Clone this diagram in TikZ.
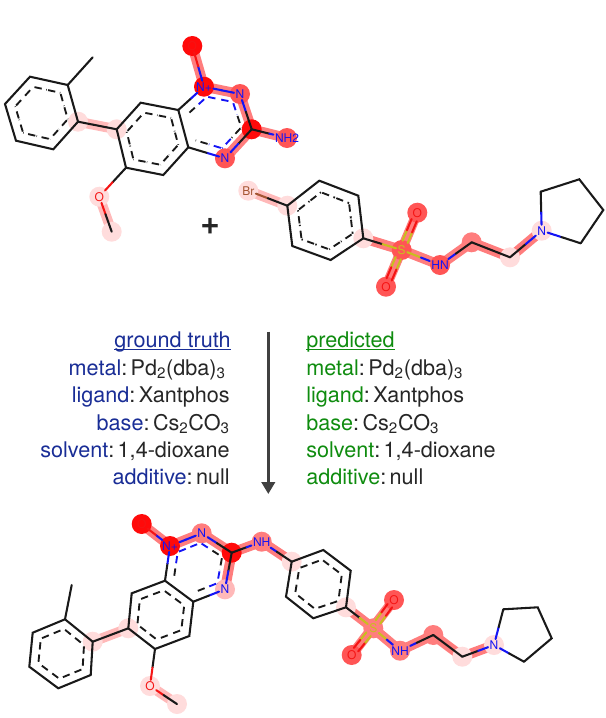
\documentclass[tikz,border=0pt]{standalone}
\usepackage{fontspec}
\setmainfont{TeX Gyre Heros}
\usetikzlibrary{arrows.meta,calc,backgrounds}
\definecolor{gtblue}{RGB}{25,45,150}
\definecolor{predgreen}{RGB}{15,140,15}
\definecolor{nblue}{RGB}{20,20,245}
\definecolor{ored}{RGB}{245,20,20}
\definecolor{syellow}{RGB}{200,190,30}
\definecolor{brbrown}{RGB}{165,85,50}
\definecolor{bondblack}{RGB}{25,25,25}
\definecolor{hlhigh}{RGB}{255,10,10}
\definecolor{hlmid}{RGB}{255,85,85}
\definecolor{hllow}{RGB}{255,220,220}
\definecolor{hlbond}{RGB}{255,125,125}
\definecolor{hlweak}{RGB}{255,185,185}
\tikzset{
  bondline/.style={line width=1.55pt,line cap=round},
  ringdash/.style={line width=1.4pt,dash pattern={on 5.5pt off 3.5pt},dash phase=-1pt},
  atomlabel/.style={font=\fontsize{9}{10}\selectfont,inner sep=1pt},
  hlstrong/.style={line width=7.5pt,hlbond},
  hlpale/.style={line width=7.5pt,hlweak},
  condtext/.style={font=\fontsize{16.2}{18}\selectfont,inner sep=0pt,text=black!85},
}
% bond drawn in two colours
\newcommand{\halfbond}[4]{
  \draw [bondline,#3] (#1) -- ($(#1.center)!0.5!(#2.center)$);
  \draw [bondline,#4] ($(#1.center)!0.5!(#2.center)$) -- (#2);
}
\newcommand{\dblbond}[4]{
  \foreach \off in {-90,90} {
    \draw [bondline,#3] ($($(#1.center)!0.22!(#2.center)$)!2.1pt!\off:(#2.center)$) -- ($($(#1.center)!0.5!(#2.center)$)!2.1pt!\off:(#2.center)$);
    \draw [bondline,#4] ($($(#1.center)!0.5!(#2.center)$)!2.1pt!\off:(#2.center)$) -- ($($(#1.center)!0.8!(#2.center)$)!2.1pt!\off:(#2.center)$);
  }
}
% inner dashes of an aromatic edge
\newcommand{\inbond}[5]{
  \draw [ringdash,#4] ($(#1)!0.72!(#2.center)$) -- ($(#1)!0.72!($(#2.center)!0.5!(#3.center)$)$);
  \draw [ringdash,#5] ($(#1)!0.72!($(#2.center)!0.5!(#3.center)$)$) -- ($(#1)!0.72!(#3.center)$);
}
\newcommand{\colgap}{:\hspace{0.16em}}
\begin{document}
\begin{tikzpicture}[x=0.75pt,y=0.75pt,yscale=-1,xscale=1]
\useasboundingbox (0,0) rectangle (606,718);

%Top left molecule
\coordinate (a1) at (5,104);
\coordinate (a2) at (30,76.7);
\coordinate (a3) at (67.7,85);
\coordinate (a4) at (78,121.7);
\coordinate (a5) at (53.3,149.3);
\coordinate (a6) at (16,140.7);
\coordinate (me1) at (92.7,57.3);
\coordinate (b1) at (116.7,129.3);
\coordinate (b2) at (140.7,102.7);
\coordinate (b3) at (178.3,110);
\coordinate (b4) at (188.3,147.3);
\coordinate (b5) at (163.3,175);
\coordinate (b6) at (126,167.7);
\coordinate (c1) at (251.7,129.3);
\coordinate (me2) at (111.7,231.7);
\coordinate (ringa) at ($(a1)!0.5!(a4)$);
\coordinate (ringb) at ($(b1)!0.5!(b4)$);
\node (n1) [atomlabel,text=nblue] at (204,86.7) {N+};
\node (n2) [atomlabel,text=nblue] at (240,94) {N};
\node (n3) [atomlabel,text=nblue] at (225,158.3) {N};
\node (nh2) [atomlabel,text=nblue] at (287,138) {NH2};
\node (o1) [atomlabel,text=ored] at (192.3,46) {O};
\node (o2) [atomlabel,text=ored] at (99.3,196.7) {O};
\coordinate (ringc) at ($(n1)!0.5!(n3)$);

\begin{scope}[on background layer]
\draw [hlstrong] (o1.center) -- (n1.center) -- (n2.center) -- (c1) -- (nh2.center);
\draw [hlstrong] (c1) -- (n3.center);
\draw [hlpale] (a4) -- (b1);
\draw [hlpale] (o2.center) -- (me2);
\fill [hlhigh] (o1.center) circle (10);
\fill [hlhigh] (n1.center) circle (10);
\fill [hlmid] (n2.center) circle (10);
\fill [hlhigh] (c1) circle (10);
\fill [hlmid] (n3.center) circle (10);
\fill [hlmid] (nh2.center) circle (10);
\fill [hllow] (a4) circle (10);
\fill [hllow] (b1) circle (10);
\fill [hllow] (o2.center) circle (10);
\fill [hllow] (me2) circle (10);
\end{scope}

\draw [bondline,bondblack] (a1) -- (a2) -- (a3) -- (a4) -- (a5) -- (a6) -- cycle;
\draw [bondline,bondblack] (b1) -- (b2) -- (b3) -- (b4) -- (b5) -- (b6) -- cycle;
\draw [bondline,bondblack] (a3) -- (me1);
\draw [bondline,bondblack] (a4) -- (b1);
\foreach \p/\q in {a1/a2,a2/a3,a3/a4,a4/a5,a5/a6,a6/a1} {\inbond{ringa}{\p}{\q}{bondblack}{bondblack}}
\foreach \p/\q in {b1/b2,b2/b3,b3/b4,b4/b5,b5/b6,b6/b1} {\inbond{ringb}{\p}{\q}{bondblack}{bondblack}}
\inbond{ringc}{b3}{n1}{bondblack}{nblue}
\inbond{ringc}{n1}{n2}{nblue}{nblue}
\inbond{ringc}{n2}{c1}{nblue}{bondblack}
\inbond{ringc}{c1}{n3}{bondblack}{nblue}
\inbond{ringc}{n3}{b4}{nblue}{bondblack}
\halfbond{b3}{n1}{bondblack}{nblue}
\halfbond{n1}{n2}{nblue}{nblue}
\halfbond{n2}{c1}{nblue}{bondblack}
\halfbond{c1}{n3}{bondblack}{nblue}
\halfbond{n3}{b4}{nblue}{bondblack}
\halfbond{c1}{nh2}{bondblack}{nblue}
\halfbond{n1}{o1}{nblue}{ored}
\halfbond{b6}{o2}{bondblack}{ored}
\halfbond{o2}{me2}{ored}{bondblack}

% Plus sign
\node (plus) [font=\fontsize{25}{25}\bfseries\selectfont,inner sep=0pt,text=black!85] at (210,226) {+};

%Top right molecule
\coordinate (d1) at (287.3,205.7);
\coordinate (d2) at (319.3,180.7);
\coordinate (d3) at (358.3,195.7);
\coordinate (d4) at (363.3,238.3);
\coordinate (d5) at (330.7,260);
\coordinate (d6) at (292.3,246);
\coordinate (e1) at (471.7,242.3);
\coordinate (e2) at (510,257.3);
\coordinate (p1) at (540.7,191.7);
\coordinate (p2) at (579.3,179.3);
\coordinate (p3) at (603.3,210);
\coordinate (p4) at (580.7,243.3);
\coordinate (ringd) at ($(d1)!0.5!(d4)$);
\node (br1) [atomlabel,text=brbrown] at (248.3,190.7) {Br};
\node (s1) [atomlabel,text=syellow] at (401.7,250) {S};
\node (o3) [atomlabel,text=ored] at (417.3,212.7) {O};
\node (o4) [atomlabel,text=ored] at (386,286.7) {O};
\node (nh1) [atomlabel,text=nblue] at (440,265) {HN};
\node (n4) [atomlabel,text=nblue] at (541.7,230.7) {N};

\begin{scope}[on background layer]
\draw [hlstrong] (d4) -- (s1.center) -- (nh1.center) -- (e1) -- (e2) -- (n4.center);
\draw [hlstrong] (o3.center) -- (o4.center);
\draw [hlpale] (br1.center) -- (d1);
\fill [hllow] (br1.center) circle (10);
\fill [hllow] (d1) circle (10);
\fill [hllow] (d4) circle (10);
\fill [hlmid] (s1.center) circle (10);
\fill [hlmid] (o3.center) circle (10);
\fill [hlmid] (o4.center) circle (10);
\fill [hlmid] (nh1.center) circle (10);
\fill [hlbond] (e1) circle (10);
\fill [hllow] (e2) circle (10);
\fill [hllow] (n4.center) circle (10);
\end{scope}

\draw [bondline,bondblack] (d1) -- (d2) -- (d3) -- (d4) -- (d5) -- (d6) -- cycle;
\foreach \p/\q in {d1/d2,d2/d3,d3/d4,d4/d5,d5/d6,d6/d1} {\inbond{ringd}{\p}{\q}{bondblack}{bondblack}}
\halfbond{br1}{d1}{brbrown}{bondblack}
\halfbond{d4}{s1}{bondblack}{syellow}
\dblbond{s1}{o3}{syellow}{ored}
\dblbond{s1}{o4}{syellow}{ored}
\halfbond{s1}{nh1}{syellow}{nblue}
\halfbond{nh1}{e1}{nblue}{bondblack}
\draw [bondline,bondblack] (e1) -- (e2);
\halfbond{e2}{n4}{bondblack}{nblue}
\halfbond{n4}{p1}{nblue}{bondblack}
\halfbond{n4}{p4}{nblue}{bondblack}
\draw [bondline,bondblack] (p1) -- (p2) -- (p3) -- (p4);

% Reaction arrow
\coordinate (arrowtop) at (268.3,331.7);
\coordinate (arrowend) at (268.3,494);
\draw [-{Triangle[length=9pt,width=10pt]},line width=2.2pt,black!75] (arrowtop) -- (arrowend);

% Text Node
\node (gthead) [condtext,anchor=base east,text=gtblue] at (231,347.5) {\underline{\smash{ground truth}}};
\node (gtmetal) [condtext,anchor=base east] at (226,375) {\textcolor{gtblue}{metal}\colgap Pd\textsubscript{2}(dba)\textsubscript{3}};
\node (gtligand) [condtext,anchor=base east] at (230,402) {\textcolor{gtblue}{ligand}\colgap Xantphos};
\node (gtbase) [condtext,anchor=base east] at (230,430) {\textcolor{gtblue}{base}\colgap Cs\textsubscript{2}CO\textsubscript{3}};
\node (gtsolvent) [condtext,anchor=base east] at (230,457) {\textcolor{gtblue}{solvent}\colgap 1,4-dioxane};
\node (gtadditive) [condtext,anchor=base east] at (230,484) {\textcolor{gtblue}{additive}\colgap null};
\node (predhead) [condtext,anchor=base west,text=predgreen] at (306,347.5) {\underline{\smash{predicted}}};
\node (predmetal) [condtext,anchor=base west] at (306,375) {\textcolor{predgreen}{metal}\colgap Pd\textsubscript{2}(dba)\textsubscript{3}};
\node (predligand) [condtext,anchor=base west] at (306,402) {\textcolor{predgreen}{ligand}\colgap Xantphos};
\node (predbase) [condtext,anchor=base west] at (306,430) {\textcolor{predgreen}{base}\colgap Cs\textsubscript{2}CO\textsubscript{3}};
\node (predsolvent) [condtext,anchor=base west] at (306,457) {\textcolor{predgreen}{solvent}\colgap 1,4-dioxane};
\node (predadditive) [condtext,anchor=base west] at (306,484) {\textcolor{predgreen}{additive}\colgap null};

%Bottom molecule
\coordinate (f1) at (32.7,632.7);
\coordinate (f2) at (65,619.3);
\coordinate (f3) at (92.7,641.7);
\coordinate (f4) at (90.7,675);
\coordinate (f5) at (58.3,688.3);
\coordinate (f6) at (29.3,666.7);
\coordinate (me3) at (71.7,585);
\coordinate (g1) at (128.3,628.3);
\coordinate (g2) at (131.7,593.3);
\coordinate (g3) at (165,580.7);
\coordinate (g4) at (193.3,601.7);
\coordinate (g5) at (189.3,636);
\coordinate (g6) at (155,649);
\coordinate (c2) at (231.7,552.7);
\coordinate (me4) at (177,704);
\coordinate (h1) at (291.7,561.7);
\coordinate (h2) at (323.3,550);
\coordinate (h3) at (350.7,570.7);
\coordinate (h4) at (346,607.3);
\coordinate (h5) at (313.3,618.3);
\coordinate (h6) at (286,596.7);
\coordinate (k1) at (433.3,635);
\coordinate (k2) at (462.3,656.7);
\coordinate (q1) at (503.3,609.3);
\coordinate (q2) at (537.7,607.3);
\coordinate (q3) at (551.7,638.3);
\coordinate (q4) at (524,661.7);
\coordinate (ringf) at ($(f1)!0.5!(f4)$);
\coordinate (ringg) at ($(g1)!0.5!(g4)$);
\coordinate (ringh) at ($(h1)!0.5!(h4)$);
\node (n5) [atomlabel,text=nblue] at (170,546) {N+};
\node (n6) [atomlabel,text=nblue] at (201.7,533.3) {N};
\node (n7) [atomlabel,text=nblue] at (225,589.3) {N};
\node (nh3) [atomlabel,text=nblue] at (261.7,541.7) {NH};
\node (nh4) [atomlabel,text=nblue] at (400,650.7) {NH};
\node (n8) [atomlabel,text=nblue] at (494,645) {N};
\node (o5) [atomlabel,text=ored] at (141.7,524) {O};
\node (o6) [atomlabel,text=ored] at (150,686) {O};
\node (o7) [atomlabel,text=ored] at (394,600) {O};
\node (o8) [atomlabel,text=ored] at (351.7,655) {O};
\node (s2) [atomlabel,text=syellow] at (373.3,628.3) {S};
\coordinate (ringk) at ($(n5)!0.5!(n7)$);

\begin{scope}[on background layer]
\draw [hlstrong] (o5.center) -- (n5.center) -- (n6.center) -- (c2) -- (nh3.center) -- (h1);
\draw [hlstrong] (c2) -- (n7.center);
\draw [hlstrong] (h4) -- (s2.center) -- (nh4.center) -- (k1) -- (k2) -- (n8.center);
\draw [hlstrong] (o7.center) -- (o8.center);
\draw [hlpale] (f3) -- (g1);
\draw [hlpale] (o6.center) -- (me4);
\fill [hlhigh] (o5.center) circle (10);
\fill [hlhigh] (n5.center) circle (10);
\fill [hlbond] (n6.center) circle (10);
\fill [hlhigh] (c2) circle (10);
\fill [hlweak] (n7.center) circle (10);
\fill [hlbond] (nh3.center) circle (10);
\fill [hllow] (h1) circle (10);
\fill [hllow] (f3) circle (10);
\fill [hllow] (g1) circle (10);
\fill [hllow] (o6.center) circle (10);
\fill [hllow] (me4) circle (10);
\fill [hllow] (h4) circle (10);
\fill [hlbond] (s2.center) circle (10);
\fill [hlmid] (o7.center) circle (10);
\fill [hlmid] (o8.center) circle (10);
\fill [hlbond] (nh4.center) circle (10);
\fill [hlbond] (k1) circle (10);
\fill [hllow] (k2) circle (10);
\fill [hllow] (n8.center) circle (10);
\end{scope}

\draw [bondline,bondblack] (f1) -- (f2) -- (f3) -- (f4) -- (f5) -- (f6) -- cycle;
\draw [bondline,bondblack] (g1) -- (g2) -- (g3) -- (g4) -- (g5) -- (g6) -- cycle;
\draw [bondline,bondblack] (h1) -- (h2) -- (h3) -- (h4) -- (h5) -- (h6) -- cycle;
\draw [bondline,bondblack] (f2) -- (me3);
\draw [bondline,bondblack] (f3) -- (g1);
\foreach \p/\q in {f1/f2,f2/f3,f3/f4,f4/f5,f5/f6,f6/f1} {\inbond{ringf}{\p}{\q}{bondblack}{bondblack}}
\foreach \p/\q in {g1/g2,g2/g3,g3/g4,g4/g5,g5/g6,g6/g1} {\inbond{ringg}{\p}{\q}{bondblack}{bondblack}}
\foreach \p/\q in {h1/h2,h2/h3,h3/h4,h4/h5,h5/h6,h6/h1} {\inbond{ringh}{\p}{\q}{bondblack}{bondblack}}
\inbond{ringk}{g3}{n5}{bondblack}{nblue}
\inbond{ringk}{n5}{n6}{nblue}{nblue}
\inbond{ringk}{n6}{c2}{nblue}{bondblack}
\inbond{ringk}{c2}{n7}{bondblack}{nblue}
\inbond{ringk}{n7}{g4}{nblue}{bondblack}
\halfbond{g3}{n5}{bondblack}{nblue}
\halfbond{n5}{n6}{nblue}{nblue}
\halfbond{n6}{c2}{nblue}{bondblack}
\halfbond{c2}{n7}{bondblack}{nblue}
\halfbond{n7}{g4}{nblue}{bondblack}
\halfbond{c2}{nh3}{bondblack}{nblue}
\halfbond{nh3}{h1}{nblue}{bondblack}
\halfbond{n5}{o5}{nblue}{ored}
\halfbond{g6}{o6}{bondblack}{ored}
\halfbond{o6}{me4}{ored}{bondblack}
\halfbond{h4}{s2}{bondblack}{syellow}
\dblbond{s2}{o7}{syellow}{ored}
\dblbond{s2}{o8}{syellow}{ored}
\halfbond{s2}{nh4}{syellow}{nblue}
\halfbond{nh4}{k1}{nblue}{bondblack}
\draw [bondline,bondblack] (k1) -- (k2);
\halfbond{k2}{n8}{bondblack}{nblue}
\halfbond{n8}{q1}{nblue}{bondblack}
\halfbond{n8}{q4}{nblue}{bondblack}
\draw [bondline,bondblack] (q1) -- (q2) -- (q3) -- (q4);

\end{tikzpicture}
\end{document}
